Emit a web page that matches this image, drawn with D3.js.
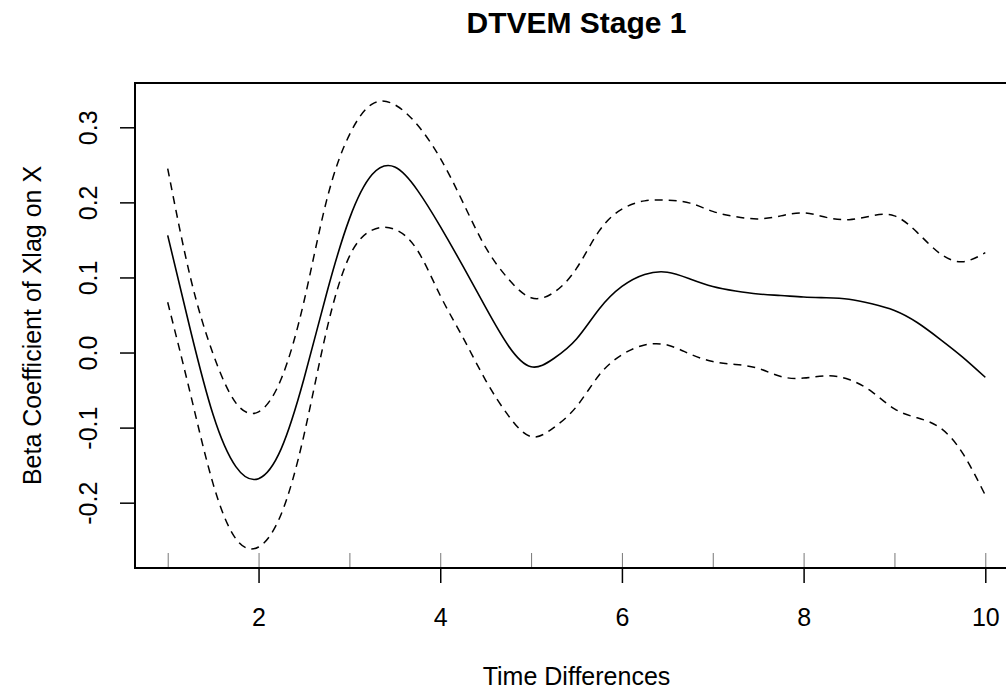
<!DOCTYPE html>
<html>
<head>
<meta charset="utf-8">
<script src="https://cdn.jsdelivr.net/npm/d3@7"></script>
<style>
  body { margin: 0; background: #fff; }
  svg { display: block; font-family: "Liberation Sans", Arial, sans-serif; }
</style>
</head>
<body>
<div id="chart"></div>
<script>
// time grid and the three curves
const timeDiffs = [1, 1.25, 1.5, 1.75, 2, 2.25, 2.5, 2.75, 3, 3.25, 3.5, 3.75, 4, 4.25, 4.5, 4.75, 5,
  5.25, 5.5, 5.75, 6, 6.25, 6.5, 6.75, 7, 7.25, 7.5, 7.75, 8, 8.25, 8.5, 8.75, 9, 9.25, 9.5, 9.75, 10];

const estimate = [0.156, 0.030, -0.083, -0.152, -0.168, -0.128, -0.035, 0.079, 0.178, 0.237, 0.247, 0.216, 0.168,
  0.115, 0.060, 0.009, -0.019, -0.008, 0.018, 0.058, 0.088, 0.104, 0.107, 0.098, 0.088, 0.082, 0.078, 0.076,
  0.074, 0.073, 0.071, 0.065, 0.056, 0.040, 0.018, -0.006, -0.033];

const upper = [0.245, 0.100, -0.002, -0.067, -0.079, -0.035, 0.068, 0.203, 0.290, 0.331, 0.330, 0.303, 0.259,
  0.200, 0.140, 0.098, 0.073, 0.080, 0.112, 0.162, 0.191, 0.202, 0.203, 0.199, 0.188, 0.181, 0.178, 0.182,
  0.186, 0.180, 0.177, 0.182, 0.182, 0.160, 0.132, 0.121, 0.133];

const lower = [0.067, -0.055, -0.175, -0.248, -0.259, -0.215, -0.110, 0.030, 0.128, 0.163, 0.164, 0.136, 0.076,
  0.020, -0.037, -0.084, -0.112, -0.100, -0.072, -0.030, -0.003, 0.010, 0.010, -0.002, -0.012, -0.016, -0.021,
  -0.032, -0.034, -0.031, -0.036, -0.052, -0.075, -0.087, -0.100, -0.134, -0.190];

const xLabelTicks = [2, 4, 6, 8, 10];
const xMinorTicks = [1, 2, 3, 4, 5, 6, 7, 8, 9, 10];
const yTicks = [-0.2, -0.1, 0.0, 0.1, 0.2, 0.3];
const yDomain = [-0.287, 0.359];

const width = 1006, height = 693;
const box = { left: 135, right: 1018, top: 83, bottom: 568 };

const svg = d3.select("#chart").append("svg").attr("width", width).attr("height", height);

// R pads the x range by 4% on each side
const pad = (10 - 1) * 0.04;
const x = d3.scaleLinear().domain([1 - pad, 10 + pad]).range([box.left, box.right]);
const y = d3.scaleLinear().domain(yDomain).range([box.bottom, box.top]);

svg.append("text")
  .attr("x", (box.left + box.right) / 2)
  .attr("y", 33)
  .attr("text-anchor", "middle")
  .attr("font-size", "30px")
  .attr("font-weight", "bold")
  .text("DTVEM Stage 1");

// curves
const line = d3.line().x((d, i) => x(timeDiffs[i])).y(d => y(d)).curve(d3.curveNatural);

[upper, lower].forEach(s => {
  svg.append("path")
    .attr("d", line(s))
    .attr("fill", "none")
    .attr("stroke", "#000")
    .attr("stroke-width", 1.5)
    .attr("stroke-dasharray", "8,6");
});

svg.append("path")
  .attr("d", line(estimate))
  .attr("fill", "none")
  .attr("stroke", "#000")
  .attr("stroke-width", 1.6);

// inward minor ticks on x
const gMinor = svg.append("g")
  .attr("transform", `translate(0,${box.bottom})`)
  .call(d3.axisBottom(x).tickValues(xMinorTicks).tickSize(-15).tickFormat(""));
gMinor.select(".domain").remove();
gMinor.selectAll("line").attr("stroke", "#777").attr("stroke-width", 1);

// labelled x axis
const gx = svg.append("g")
  .attr("transform", `translate(0,${box.bottom})`)
  .call(d3.axisBottom(x).tickValues(xLabelTicks).tickSize(15).tickFormat(d3.format("d")));
gx.select(".domain").remove();
gx.selectAll("line").attr("stroke", "#000").attr("stroke-width", 1.5);
gx.selectAll("text")
  .attr("y", 58)
  .attr("dy", null)
  .attr("fill", "#000")
  .attr("font-size", "25px")
  .attr("font-family", "Liberation Sans, Arial, sans-serif");

// y axis with rotated labels
const gy = svg.append("g")
  .attr("transform", `translate(${box.left},0)`)
  .call(d3.axisLeft(y).tickValues(yTicks).tickSize(15).tickFormat(d => d.toFixed(1)));
gy.select(".domain").remove();
gy.selectAll("line").attr("stroke", "#000").attr("stroke-width", 1.5);
gy.selectAll("text")
  .attr("x", null)
  .attr("dy", null)
  .attr("transform", "translate(-38,0) rotate(-90)")
  .attr("text-anchor", "middle")
  .attr("fill", "#000")
  .attr("font-size", "25px")
  .attr("font-family", "Liberation Sans, Arial, sans-serif");

// plot box
svg.append("rect")
  .attr("x", box.left)
  .attr("y", box.top)
  .attr("width", box.right - box.left)
  .attr("height", box.bottom - box.top)
  .attr("fill", "none")
  .attr("stroke", "#000")
  .attr("stroke-width", 2);

// axis titles
svg.append("text")
  .attr("x", (box.left + box.right) / 2)
  .attr("y", 685)
  .attr("text-anchor", "middle")
  .attr("font-size", "25px")
  .text("Time Differences");

svg.append("text")
  .attr("transform", `translate(41,${(box.top + box.bottom) / 2}) rotate(-90)`)
  .attr("text-anchor", "middle")
  .attr("font-size", "25px")
  .text("Beta Coefficient of Xlag on X");
</script>
</body>
</html>
